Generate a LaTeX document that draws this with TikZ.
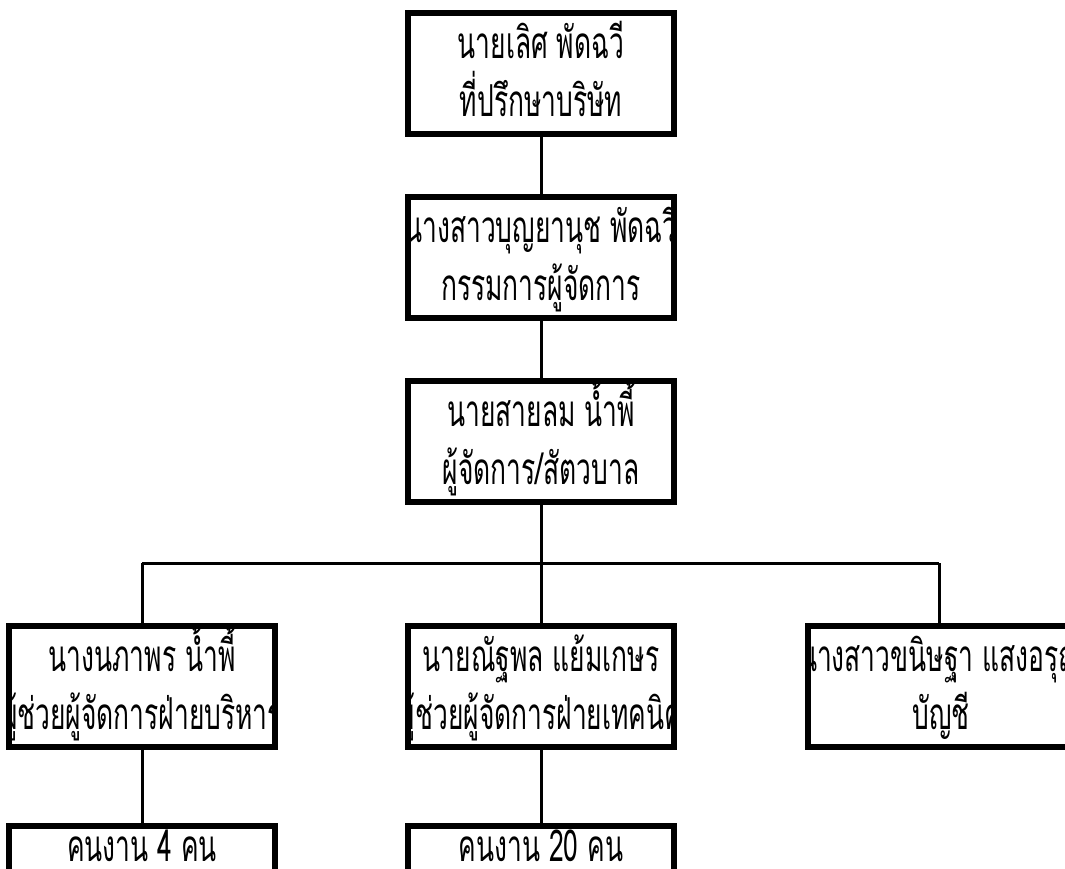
\documentclass[tikz,border=0pt]{standalone}
\usepackage{fontspec}
\newfontfamily\thai[Script=Thai,FakeStretch=0.6]{Loma}
\begin{document}
\begin{tikzpicture}[x=1pt,y=-1pt,
  box/.style={draw, line width=6pt, minimum width=266pt, minimum height=121pt, inner sep=0pt, outer sep=0pt},
  conn/.style={line width=3pt},
  txt/.style={font=\thai\fontsize{44}{44}\selectfont, anchor=base, inner sep=0pt},
  twolines/.style 2 args={path picture={
      \node[txt] at ([yshift=-45pt]path picture bounding box.north) {#1};
      \node[txt] at ([yshift=-103pt]path picture bounding box.north) {#2};}},
  oneline/.style={path picture={
      \node[txt] at ([yshift=-35pt]path picture bounding box.north) {#1};}}]
\useasboundingbox (0,0) rectangle (1065,868);

\node[box, twolines={นายเลิศ พัดฉวี}{ที่ปรึกษาบริษัท}] (a) at (541,73.5) {};
\node[box, twolines={นางสาวบุญยานุช พัดฉวี}{กรรมการผู้จัดการ}] (b) at (541,257.5) {};
\node[box, twolines={นายสายลม น้ำพี้}{ผู้จัดการ/สัตวบาล}] (c) at (541,441.5) {};
\node[box, twolines={นางนภาพร น้ำพี้}{ผู้ช่วยผู้จัดการฝ่ายบริหาร}] (d) at (142,686.5) {};
\node[box, twolines={นายณัฐพล แย้มเกษร}{ผู้ช่วยผู้จัดการฝ่ายเทคนิค}] (e) at (541,686.5) {};
\node[box, twolines={นางสาวขนิษฐา แสงอรุณ}{บัญชี}] (f) at (941,686.5) {};
\node[box, oneline={คนงาน 4 คน}] (g) at (142,886.5) {};
\node[box, oneline={คนงาน 20 คน}] (h) at (541,886.5) {};

\coordinate (busL) at (142,563);
\coordinate (busR) at (939,563);
\draw[conn] (a.south) -- (b.north);
\draw[conn] (b.south) -- (c.north);
\draw[conn] (c.south) -- (e.north);
\draw[conn] (busL) -- (busR);
\draw[conn] (busL) -- (d.north);
\draw[conn] (busR) -- (busR |- f.north);
\draw[conn] (d.south) -- (g.north);
\draw[conn] (e.south) -- (h.north);
\end{tikzpicture}
\end{document}
